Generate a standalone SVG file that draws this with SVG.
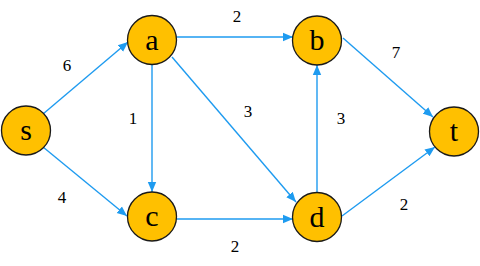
<svg xmlns="http://www.w3.org/2000/svg" width="480" height="266" viewBox="0 0 480 266">
<style>
.node circle{fill:#FFC000;stroke:#1a1a1a;stroke-width:1.3}
.node text{font-size:30px;fill:#000;text-anchor:middle}
.edge{stroke:#1E9BF0;stroke-width:1.4;fill:none;marker-end:url(#arr)}
.lbl{font-size:17px;fill:#000;text-anchor:middle}
</style>
<defs>
<marker id="arr" markerUnits="userSpaceOnUse" markerWidth="10" markerHeight="10" viewBox="0 0 10 10" refX="10" refY="5" orient="auto">
<path d="M0,0.8 L10,5 L0,9.2 Z" fill="#1E9BF0"/>
</marker>
</defs>
<rect width="480" height="266" fill="#fff"/>
<g id="connectors">
<line class="edge" x1="43" y1="114" x2="128" y2="42"/>
<line class="edge" x1="43" y1="147" x2="127" y2="216"/>
<line class="edge" x1="176" y1="37" x2="293" y2="37"/>
<line class="edge" x1="152" y1="64" x2="152" y2="192"/>
<line class="edge" x1="172" y1="57" x2="296" y2="202"/>
<line class="edge" x1="343" y1="38" x2="433" y2="117"/>
<line class="edge" x1="176" y1="219" x2="293" y2="219"/>
<line class="edge" x1="317" y1="193" x2="317" y2="65"/>
<line class="edge" x1="342" y1="216" x2="435" y2="147"/>
</g>
<g id="labels" font-family="Liberation Serif, Times New Roman, serif">
<text class="lbl" x="67" y="71">6</text>
<text class="lbl" x="62" y="203">4</text>
<text class="lbl" x="237" y="22">2</text>
<text class="lbl" x="133" y="124">1</text>
<text class="lbl" x="248" y="117">3</text>
<text class="lbl" x="235" y="252">2</text>
<text class="lbl" x="396" y="58">7</text>
<text class="lbl" x="341" y="124">3</text>
<text class="lbl" x="404" y="210">2</text>
</g>
<g id="node-s" class="node" font-family="Liberation Serif, Times New Roman, serif"><circle cx="26" cy="130.5" r="24.5"/><text x="26" y="140">s</text></g>
<g id="node-a" class="node" font-family="Liberation Serif, Times New Roman, serif"><circle cx="152" cy="40" r="24.5"/><text x="152" y="49.5">a</text></g>
<g id="node-b" class="node" font-family="Liberation Serif, Times New Roman, serif"><circle cx="317" cy="40.5" r="24.5"/><text x="317" y="50">b</text></g>
<g id="node-c" class="node" font-family="Liberation Serif, Times New Roman, serif"><circle cx="152" cy="216.5" r="24.5"/><text x="152" y="226">c</text></g>
<g id="node-d" class="node" font-family="Liberation Serif, Times New Roman, serif"><circle cx="317" cy="217" r="24.5"/><text x="317" y="226.5">d</text></g>
<g id="node-t" class="node" font-family="Liberation Serif, Times New Roman, serif"><circle cx="454" cy="131.5" r="24.5"/><text x="454" y="141">t</text></g>
</svg>
